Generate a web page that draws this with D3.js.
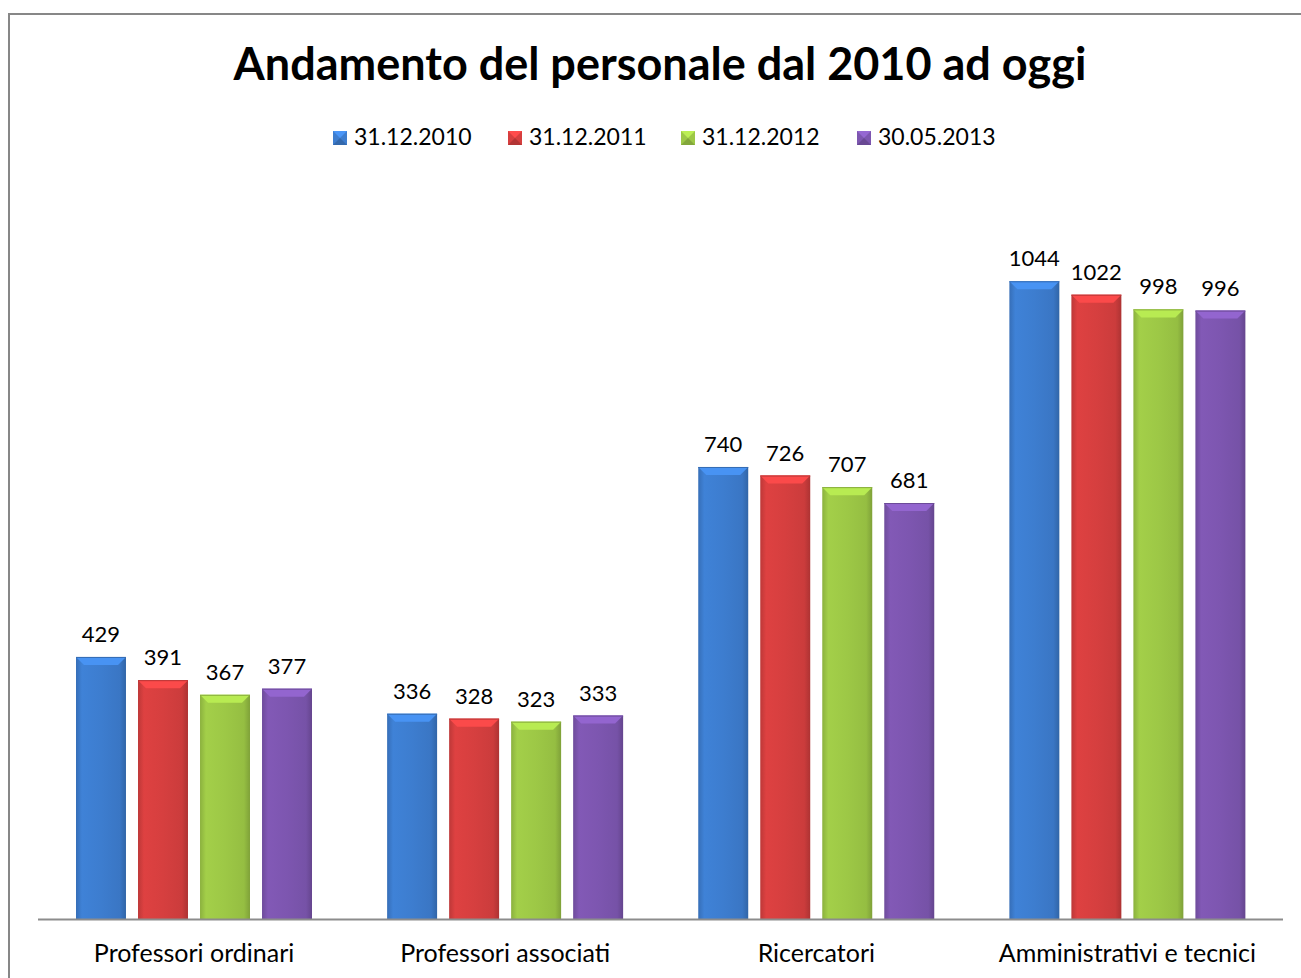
<!DOCTYPE html>
<html>
<head>
<meta charset="utf-8">
<script src="https://cdn.jsdelivr.net/npm/d3@7"></script>
<style>
  body { margin: 0; background: #fff; }
  text { font-family: Lato, "Open Sans", sans-serif; fill: #000; }
</style>
</head>
<body>
<script>
var w = 1301, h = 978;

// data
var categories = ['Professori ordinari', 'Professori associati', 'Ricercatori', 'Amministrativi e tecnici'];
var seriesNames = ['31.12.2010', '31.12.2011', '31.12.2012', '30.05.2013'];
var s2010 = [429, 336, 740, 1044];
var s2011 = [391, 328, 726, 1022];
var s2012 = [367, 323, 707, 998];
var s2013 = [377, 333, 681, 996];
var seriesValues = [s2010, s2011, s2012, s2013];
var colors = ['#3d7dcf', '#d63f3f', '#9dc846', '#7d56b0'];

var svg = d3.select('body').append('svg')
    .attr('width', w)
    .attr('height', h);

var defs = svg.append('defs');

// frame
svg.append('rect')
    .attr('x', 9).attr('y', 14)
    .attr('width', w).attr('height', h)
    .attr('fill', 'none')
    .attr('stroke', '#878787')
    .attr('stroke-width', 2);

svg.append('text')
    .attr('x', 660).attr('y', 80)
    .attr('text-anchor', 'middle')
    .style('font-size', '45px')
    .style('font-weight', 'bold')
    .text('Andamento del personale dal 2010 ad oggi');

var x0 = d3.scaleBand().domain(categories).range([38.5, 1283]).paddingInner(0).paddingOuter(0);
var x1 = d3.scaleBand().domain(seriesNames).range([37.5, 273.5]).paddingInner(0.194).paddingOuter(0);
var y = d3.scaleLinear().domain([0, 1200]).range([919, 186]);

// gradients per series
colors.forEach(function(c, i) {
    var g = defs.append('linearGradient').attr('id', 'grad' + i)
        .attr('x1', '0').attr('x2', '1').attr('y1', '0').attr('y2', '0');
    var base = d3.rgb(c);
    g.append('stop').attr('offset', '0').attr('stop-color', base.darker(0.35));
    g.append('stop').attr('offset', '0.12').attr('stop-color', base.brighter(0.1));
    g.append('stop').attr('offset', '0.5').attr('stop-color', base);
    g.append('stop').attr('offset', '0.88').attr('stop-color', base.darker(0.15));
    g.append('stop').attr('offset', '1').attr('stop-color', base.darker(0.6));
});

var bw = x1.bandwidth();
var bev = 8;

var groups = svg.selectAll('g.cat')
    .data(categories)
    .enter()
    .append('g')
    .attr('class', 'cat')
    .attr('transform', function(d) { return 'translate(' + x0(d) + ',0)'; });

var bars = groups.selectAll('g.bar')
    .data(function(d, ci) {
        return seriesNames.map(function(s, si) {
            return { s: s, si: si, value: seriesValues[si][ci] };
        });
    })
    .enter()
    .append('g')
    .attr('class', 'bar');

bars.append('rect')
    .attr('x', function(d) { return x1(d.s); })
    .attr('y', function(d) { return y(d.value); })
    .attr('width', bw)
    .attr('height', function(d) { return y(0) - y(d.value); })
    .attr('fill', function(d) { return 'url(#grad' + d.si + ')'; });

// top bevel
bars.append('path')
    .attr('d', function(d) {
        var l = x1(d.s), r = l + bw, t = y(d.value);
        return 'M' + l + ',' + t + 'L' + r + ',' + t + 'L' + (r - bev) + ',' + (t + bev) + 'L' + (l + bev) + ',' + (t + bev) + 'Z';
    })
    .attr('fill', function(d) { return d3.rgb(colors[d.si]).brighter(0.45); });

// top edge line
bars.append('line')
    .attr('x1', function(d) { return x1(d.s); })
    .attr('x2', function(d) { return x1(d.s) + bw; })
    .attr('y1', function(d) { return y(d.value) + 0.5; })
    .attr('y2', function(d) { return y(d.value) + 0.5; })
    .attr('stroke', function(d) { return d3.rgb(colors[d.si]).darker(0.4); });

bars.append('text')
    .attr('x', function(d) { return x1(d.s) + bw / 2; })
    .attr('y', function(d) { return y(d.value) - 15; })
    .attr('text-anchor', 'middle')
    .style('font-size', '22px')
    .text(function(d) { return d.value; });

// axis line
svg.append('line')
    .attr('x1', 38).attr('x2', 1283)
    .attr('y1', 919.5).attr('y2', 919.5)
    .attr('stroke', '#8c8c8c')
    .attr('stroke-width', 2);

groups.append('text')
    .attr('x', x0.bandwidth() / 2)
    .attr('y', 962)
    .attr('text-anchor', 'middle')
    .style('font-size', '25px')
    .text(function(d) { return d; });

// legend
var legendX = [333, 508, 681, 857];
var legend = svg.selectAll('g.leg')
    .data(seriesNames)
    .enter()
    .append('g')
    .attr('class', 'leg')
    .attr('transform', function(d, i) { return 'translate(' + legendX[i] + ',131)'; });

legend.append('rect')
    .attr('width', 14).attr('height', 14)
    .attr('fill', function(d, i) { return colors[i]; });
legend.append('path')
    .attr('d', 'M0,0L14,0L7,7Z')
    .attr('fill', function(d, i) { return d3.rgb(colors[i]).brighter(0.5); });
legend.append('path')
    .attr('d', 'M0,14L14,14L7,7Z')
    .attr('fill', function(d, i) { return d3.rgb(colors[i]).darker(0.5); });

legend.append('text')
    .attr('x', 21).attr('y', 14)
    .style('font-size', '23px')
    .text(function(d) { return d; });
</script>
</body>
</html>
